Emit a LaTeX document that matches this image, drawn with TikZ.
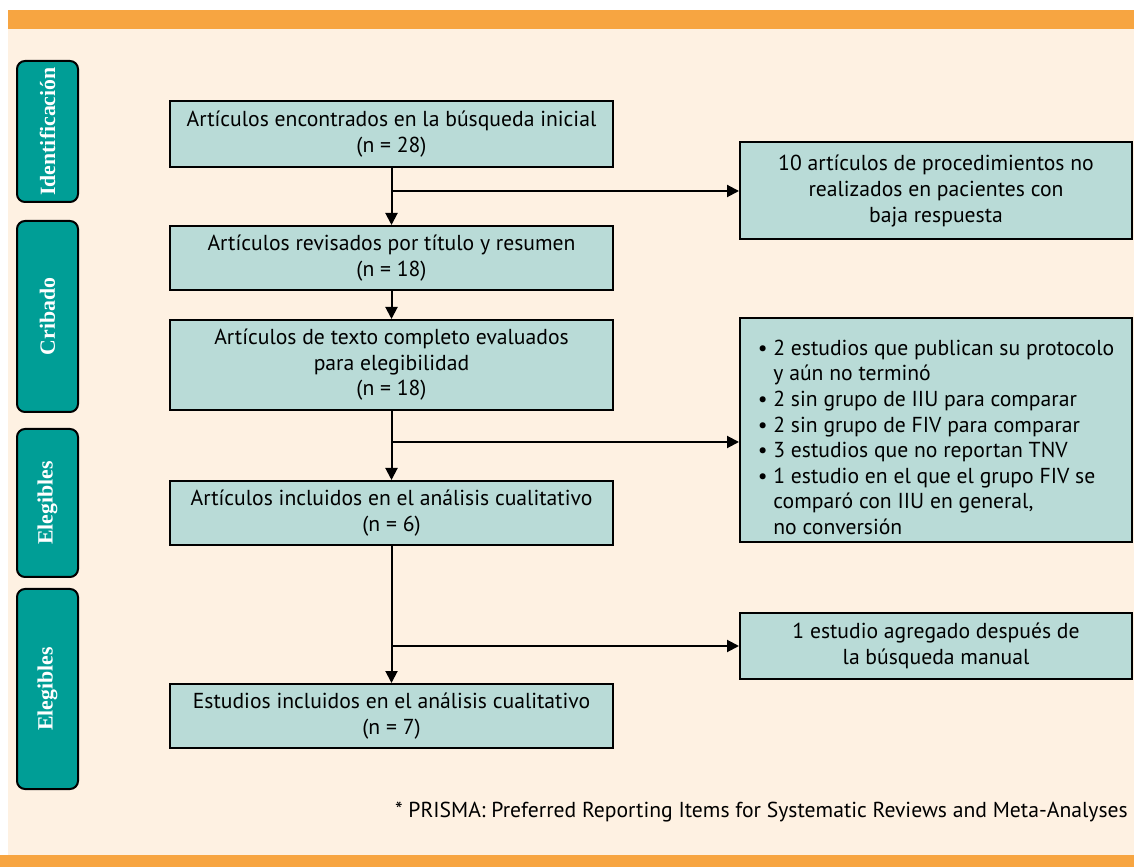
\documentclass[tikz,border=0pt]{standalone}
\usepackage{fontspec}
\setmainfont{PT Sans}
\newfontfamily\fuentelateral{Liberation Serif}
\usetikzlibrary{arrows.meta}

\definecolor{crema}{RGB}{254,241,226}
\definecolor{naranja}{RGB}{247,165,65}
\definecolor{verdeazul}{RGB}{0,158,150}
\definecolor{cajafondo}{RGB}{185,219,215}

\newcommand{\sangria}{\phantom{\textbullet\ }}

\tikzset{
  caja/.style={draw, line width=0.05cm, fill=cajafondo, inner sep=0pt, align=center,
    font=\fontsize{15.4}{18.2}\selectfont},
  lateral/.style={draw, line width=0.05cm, fill=verdeazul, rounded corners=0.2cm, rotate=90,
    minimum height=1.525cm, text=white, font=\fuentelateral\bfseries\fontsize{15.5}{16}\selectfont},
  flecha/.style={-{Triangle[length=0.3cm,width=0.3cm]}, line width=0.05cm},
}

\begin{document}
\begin{tikzpicture}
				\useasboundingbox (0,0) rectangle (28.35,21.675);
				\begin{scope}
					% fondo y barras
					\fill[white] (0,0) rectangle (28.35,21.675);
					\fill[crema] (0.2,0.3) rectangle (28.35,20.95);
					\fill[naranja] (0.2,20.95) rectangle (28.35,21.425);
					\fill[naranja] (0,0) rectangle (28.35,0.3);

					% etiquetas laterales
					\node[lateral, minimum width=3.525cm] (ident) at (1.1875,18.3875) {Identificación};
					\node[lateral, minimum width=4.775cm] (crib) at (1.1875,13.7625) {Cribado};
					\node[lateral, minimum width=3.7cm] (eleg1) at (1.1875,9.1) {Elegibles};
					\node[lateral, minimum width=5cm] (eleg2) at (1.1875,4.45) {Elegibles};

					% cajas centrales
					\node[caja, minimum width=11.075cm, minimum height=1.65cm] (inicial) at (9.7875,18.325)
						{Artículos encontrados en la búsqueda inicial\\(n = 28)};
					\node[caja, minimum width=11.075cm, minimum height=1.6cm] (revisados) at (9.7875,15.225)
						{Artículos revisados por título y resumen\\(n = 18)};
					\node[caja, minimum width=11.075cm, minimum height=2.25cm] (completos) at (9.7875,12.55)
						{Artículos de texto completo evaluados\\para elegibilidad\\(n = 18)};
					\node[caja, minimum width=11.075cm, minimum height=1.6cm] (incluidos) at (9.7875,8.85)
						{Artículos incluidos en el análisis cualitativo\\(n = 6)};
					\node[caja, minimum width=11.075cm, minimum height=1.6cm] (estudios) at (9.7875,3.775)
						{Estudios incluidos en el análisis cualitativo\\(n = 7)};

					% cajas de la derecha
					\node[caja, minimum width=9.8cm, minimum height=2.425cm] (excluidos) at (23.4,16.9)
						{10 artículos de procedimientos no\\realizados en pacientes con\\baja respuesta};
					\node[caja, minimum width=9.8cm, minimum height=5.6cm, align=left] (motivos) at (23.4,10.925)
						{\rule{0pt}{0.75cm}\textbullet\ 2 estudios que publican su protocolo\\
						 \sangria y aún no terminó\\
						 \textbullet\ 2 sin grupo de IIU para comparar\\
						 \textbullet\ 2 sin grupo de FIV para comparar\\
						 \textbullet\ 3 estudios que no reportan TNV\\
						 \textbullet\ 1 estudio en el que el grupo FIV se\\
						 \sangria comparó con IIU en general,\\
						 \sangria no conversión};
					\node[caja, minimum width=9.8cm, minimum height=1.65cm] (manual) at (23.4,5.525)
						{1 estudio agregado después de\\la búsqueda manual};

					% flechas verticales
					\draw[flecha] (inicial) -- (revisados);
					\draw[flecha] (revisados) -- (completos);
					\draw[flecha] (completos) -- (incluidos);
					\draw[flecha] (incluidos) -- (estudios);

					% ramas hacia la derecha
					\coordinate (rama1) at (9.7875,16.9);
					\coordinate (rama2) at (9.7875,10.625);
					\coordinate (rama3) at (9.7875,5.525);
					\draw[flecha] (rama1) -- (excluidos.west);
					\draw[flecha] (rama2) -- (rama2 -| motivos.west);
					\draw[flecha] (rama3) -- (manual.west);

					% nota al pie
					\node[anchor=east, font=\fontsize{15.4}{17}\selectfont, inner sep=0pt] (nota) at (28.2,1.375)
						{* PRISMA: Preferred Reporting Items for Systematic Reviews and Meta-Analyses};
				\end{scope}
			\end{tikzpicture}
\end{document}
